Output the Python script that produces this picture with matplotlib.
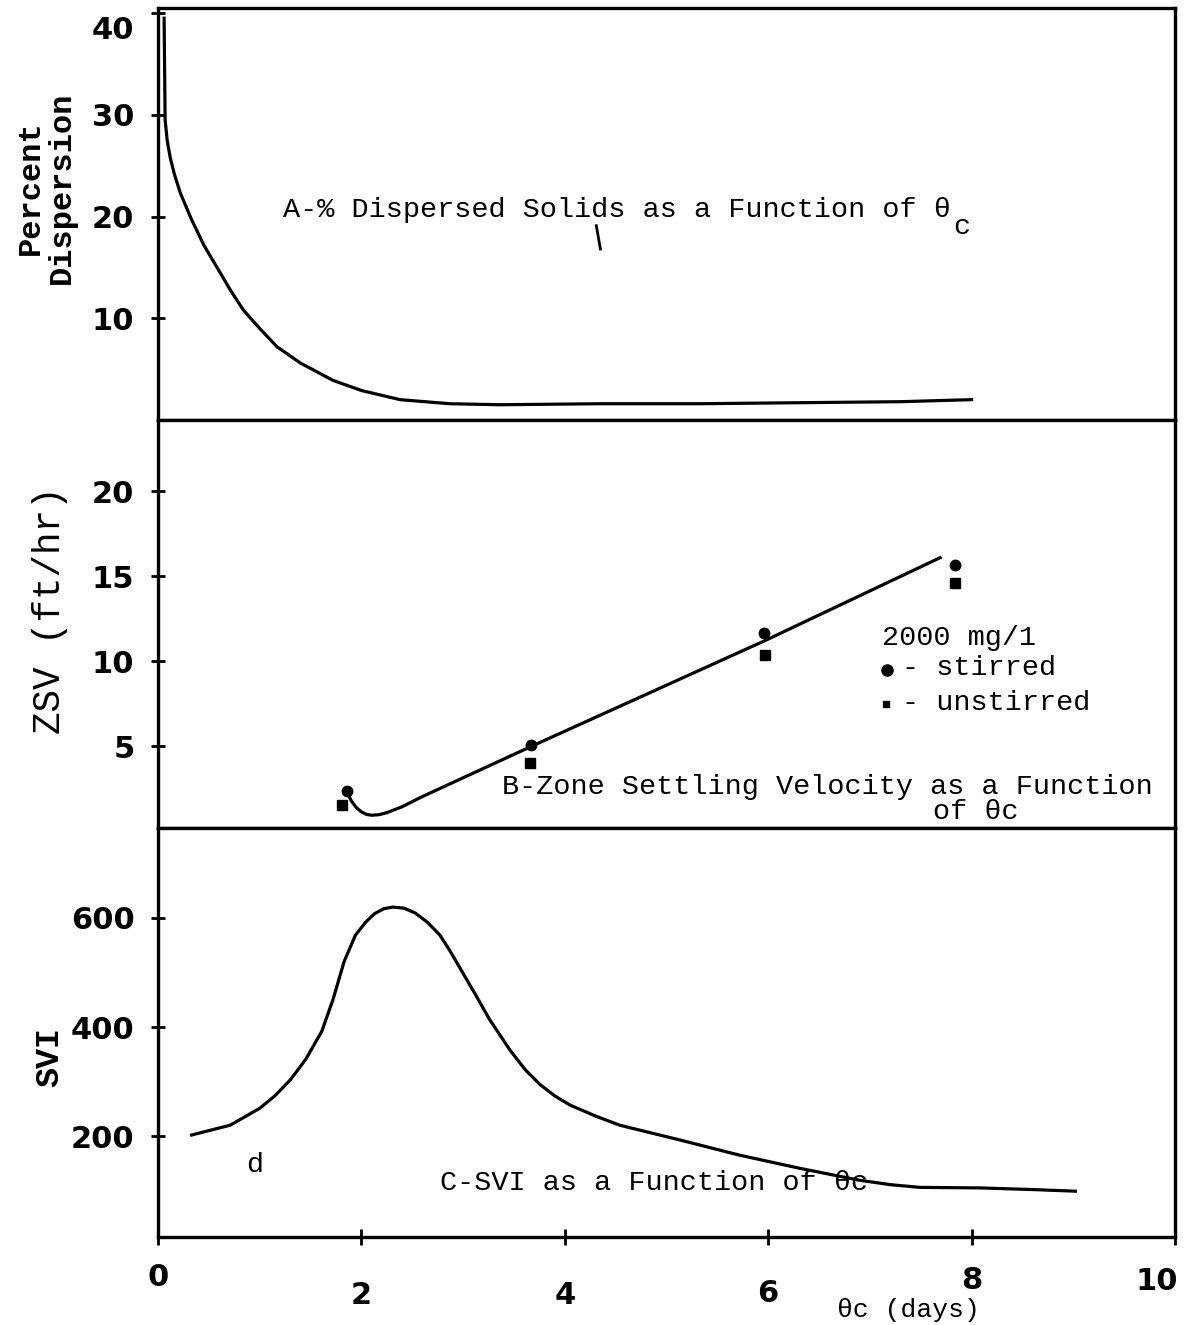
import matplotlib.pyplot as plt
from matplotlib.transforms import ScaledTranslation

plt.rcParams['font.family'] = ['Liberation Mono', 'DejaVu Sans Mono']

# A - percent dispersion vs theta_c
disp_x = [0.06, 0.07, 0.09, 0.12, 0.16, 0.22, 0.33, 0.45, 0.58, 0.71, 0.84, 1.0, 1.17, 1.40, 1.72,
          2.0, 2.38, 2.87, 3.36, 4.35, 5.33, 6.31, 7.30, 8.0]
disp_y = [39.5, 29.5, 27.5, 25.8, 24.2, 22.3, 19.7, 17.2, 15.0, 12.8, 10.8, 9.0, 7.2, 5.6, 3.9,
          2.9, 2.0, 1.6, 1.5, 1.6, 1.6, 1.7, 1.8, 2.0]

# B - zone settling velocity, fitted line and measured points
zsv_x = [1.86, 1.90, 1.95, 2.0, 2.05, 2.1, 2.17, 2.25, 2.4, 2.6, 3.67, 5.96, 7.69]
zsv_y = [2.3, 1.8, 1.4, 1.15, 1.0, 0.95, 0.98, 1.1, 1.45, 2.05, 5.0, 11.2, 16.1]
stirred_x = [1.86, 3.67, 5.96, 7.84]
stirred_y = [2.35, 5.06, 11.7, 15.7]
unstirred_x = [1.81, 3.66, 5.97, 7.84]
unstirred_y = [1.53, 4.0, 10.35, 14.6]

# C - SVI vs theta_c
svi_x = [0.33, 0.71, 1.0, 1.15, 1.30, 1.45, 1.61, 1.72, 1.83, 1.94, 2.04, 2.13, 2.22, 2.31, 2.42,
         2.53, 2.65, 2.77, 2.87, 2.97, 3.12, 3.26, 3.46, 3.61, 3.76, 3.90, 4.05, 4.30, 4.54,
         5.13, 5.72, 6.31, 6.90, 7.20, 7.49, 8.08, 8.6, 9.02]
svi_y = [202, 220, 251, 274, 303, 340, 392, 450, 520, 568, 592, 608, 617, 620, 618,
         609, 592, 569, 540, 508, 460, 414, 358, 322, 294, 274, 257, 237, 220,
         193, 165, 141, 119, 111, 106, 105, 102, 99]

x_ticks = [0, 2, 4, 6, 8, 10]
x_tick_labels = ['0', '2', '4', '6', '8', '10']

W, H = 1185, 1325
fig = plt.figure(figsize=(W / 100, H / 100), dpi=100)

def panel(top, bottom):
    left, right = 158, 1175
    return fig.add_axes([left / W, 1 - bottom / H, (right - left) / W, (bottom - top) / H])

ax1 = panel(8, 420)
ax2 = panel(420, 828)
ax3 = panel(828, 1237)

tick_font = ['Liberation Sans Narrow', 'DejaVu Sans']
note_size = 20.5
lw = 2.3
for ax in (ax1, ax2, ax3):
    ax.set_xlim(0, 10)
    for s in ax.spines.values():
        s.set_linewidth(2.4)
        s.set_color('black')
    ax.tick_params(axis='y', direction='inout', length=10, width=2, pad=12)
    ax.tick_params(axis='x', direction='inout', length=12, width=2)

def style_ticks(labels):
    for lab in labels:
        lab.set_family(tick_font)
        lab.set_fontsize(22)
        lab.set_fontweight('bold')

# top panel
ax1.plot(disp_x, disp_y, color='black', lw=lw)
ax1.plot([4.31, 4.35], [19.1, 16.8], color='black', lw=2)
ax1.set_ylim(0, 40.5)
ax1.set_yticks([10, 20, 30, 40])
ax1.set_xticks([])
t = ax1.text(1.23, 20.6, 'A-% Dispersed Solids as a Function of θ', fontsize=note_size,
             va='center', ha='left')
ax1.annotate('c', xy=(1, 0), xycoords=t, xytext=(2, -12), textcoords='offset points',
             fontsize=note_size, va='bottom', ha='left')

# middle panel
ax2.plot(zsv_x, zsv_y, color='black', lw=lw)
ax2.plot(stirred_x, stirred_y, 'o', color='black', ms=7.5)
ax2.plot(unstirred_x, unstirred_y, 's', color='black', ms=6.5)
ax2.set_ylim(0.2, 24.2)
ax2.set_yticks([5, 10, 15, 20])
ax2.set_xticks([])
ax2.text(7.12, 11.4, '2000 mg/1', fontsize=note_size, va='center', ha='left')
ax2.plot([7.17], [9.5], 'o', color='black', ms=8)
ax2.text(7.32, 9.6, '- stirred', fontsize=note_size, va='center', ha='left')
ax2.plot([7.16], [7.5], 's', color='black', ms=5)
ax2.text(7.32, 7.55, '- unstirred', fontsize=note_size, va='center', ha='left')
ax2.text(3.38, 2.6, 'B-Zone Settling Velocity as a Function', fontsize=note_size,
         va='center', ha='left')
ax2.text(7.62, 1.15, 'of θc', fontsize=note_size, va='center', ha='left')

# bottom panel
ax3.plot(svi_x, svi_y, color='black', lw=lw)
ax3.set_ylim(15, 765)
ax3.set_yticks([200, 400, 600])
ax3.set_xticks(x_ticks)
ax3.set_xticklabels(x_tick_labels)
ax3.tick_params(axis='x', pad=26)
ax3.text(0.95, 147, 'd', fontsize=note_size, va='center', ha='center')
ax3.text(2.77, 114, 'C-SVI as a Function of θc', fontsize=note_size, va='center', ha='left')

for ax in (ax1, ax2, ax3):
    style_ticks(ax.get_yticklabels())
style_ticks(ax3.get_xticklabels())

# typed labels are not on a straight baseline
xl = ax3.get_xticklabels()
for lab, dy in zip(xl, [18, 0, 0, 2, 15, 14]):
    lab.set_transform(lab.get_transform() + ScaledTranslation(0, dy / 100, fig.dpi_scale_trans))
xl[-1].set_horizontalalignment('right')
xl[-1].set_transform(xl[-1].get_transform() + ScaledTranslation(0.03, 0, fig.dpi_scale_trans))
yl1 = ax1.get_yticklabels()
yl1[-1].set_transform(yl1[-1].get_transform() + ScaledTranslation(0, -0.14, fig.dpi_scale_trans))

# axis titles
fig.text(46 / W, 1 - 188 / H, 'Percent\nDispersion', rotation=90, fontsize=23, fontweight='bold',
         ha='center', va='center', linespacing=1.05, multialignment='center')
fig.text(50 / W, 1 - 610 / H, 'ZSV (ft/hr)', rotation=90, fontsize=27, ha='center', va='center')
fig.text(50 / W, 1 - 1057 / H, 'SVI', rotation=90, fontsize=24, fontweight='bold',
         ha='center', va='center')
fig.text(908 / W, 1 - 1310 / H, 'θc (days)', fontsize=19, ha='center', va='center')

fig.savefig('out.png', dpi=100, facecolor='white')
